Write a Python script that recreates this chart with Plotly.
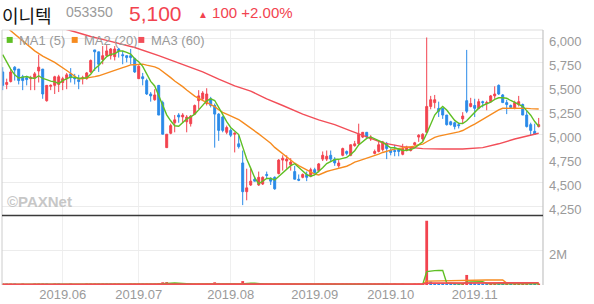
import plotly.graph_objects as go
import pandas as pd

# ---------------- data ----------------
holidays = ["2019-06-06", "2019-08-15", "2019-09-12", "2019-09-13", "2019-10-03", "2019-10-09"]
dates = pd.bdate_range("2019-05-13", "2019-11-25", freq="C", holidays=holidays)

opens = [5650,5520,5550,5700,5680,5600,5590,5580,5590,5660,
         5680,5350,5500,5510,5520,5540,5580,5630,5590,5570,
         5580,5580,5650,5880,5860,5780,5820,5820,5810,5890,
         5830,5820,5820,5790,5580,5600,5560,5420,5360,5510,
         5330,4860,5010,5120,5200,5180,5130,5110,5210,5350,
         5370,5320,5370,5300,5210,5180,5020,5040,5000,4900,
         4700,4400,4470,4530,4470,4480,4580,4540,4550,4590,
         4730,4720,4680,4610,4530,4550,4580,4560,4630,4620,
         4740,4740,4780,4740,4670,4780,4820,4780,4880,4900,
         4970,5020,4950,4800,4820,4840,4900,4830,4830,4840,
         4790,4830,4830,4890,4970,4950,5020,5290,5330,5270,
         5270,5200,5130,5120,5100,5160,5350,5290,5300,5270,
         5340,5320,5340,5400,5510,5410,5330,5300,5270,5310,
         5310,5200,5100,5030,5080]
highs = [5700,5580,5680,5710,5680,5620,5610,5610,5650,5830,
         5680,5510,5520,5610,5620,5600,5640,5690,5630,5620,
         5610,5650,5780,5880,5860,5920,5930,5900,5920,5900,
         5870,5820,5890,5800,5720,5640,5580,5440,5470,5510,
         5350,5000,5110,5200,5220,5220,5200,5200,5310,5460,
         5450,5480,5390,5320,5220,5190,5090,5060,5020,4990,
         4830,4640,4640,4560,4610,4560,4610,4550,4560,4740,
         4780,4780,4750,4670,4580,4590,4610,4650,4650,4700,
         4820,4830,4830,4760,4730,4860,4830,4890,4930,5110,
         5020,5020,4990,4840,4930,4930,4920,4850,4890,4850,
         4900,4880,4860,4920,5000,5010,6010,5400,5410,5340,
         5270,5200,5140,5130,5120,5230,5880,5380,5370,5370,
         5350,5350,5410,5500,5520,5420,5360,5310,5350,5400,
         5320,5250,5120,5110,5170]
lows = [5460,5470,5540,5560,5520,5460,5510,5460,5460,5540,
        5370,5340,5460,5420,5440,5460,5470,5540,5520,5470,
        5520,5570,5640,5660,5650,5730,5810,5780,5770,5800,
        5730,5750,5730,5640,5580,5510,5410,5340,5350,5200,
        5000,4860,5000,5020,5120,5120,5020,5080,5200,5260,
        5350,5300,5280,4860,4930,5020,5000,4970,4810,4850,
        4260,4310,4460,4510,4460,4470,4540,4470,4420,4580,
        4620,4640,4620,4530,4510,4540,4510,4550,4580,4600,
        4720,4720,4710,4670,4650,4770,4780,4770,4870,4890,
        4960,4950,4930,4790,4810,4820,4740,4780,4770,4770,
        4780,4820,4820,4880,4920,4930,5020,5260,5270,5180,
        5160,5090,5090,5050,5060,5110,5220,5280,5180,5260,
        5280,5250,5330,5370,5410,5330,5210,5270,5260,5290,
        5200,5070,4990,5000,5070]
closes = [5510,5540,5650,5670,5560,5560,5570,5590,5630,5700,
          5420,5510,5510,5600,5600,5580,5620,5590,5580,5550,
          5590,5640,5770,5860,5730,5820,5870,5890,5890,5870,
          5820,5800,5800,5650,5710,5580,5420,5400,5410,5200,
          5000,5000,5090,5150,5180,5200,5180,5190,5300,5400,
          5430,5420,5300,5210,5040,5040,5070,4990,5010,4870,
          4400,4440,4510,4510,4550,4550,4570,4510,4430,4730,
          4750,4740,4710,4530,4520,4580,4550,4630,4600,4690,
          4780,4770,4740,4700,4700,4850,4800,4890,4900,5000,
          5020,4970,4970,4820,4890,4920,4850,4810,4820,4820,
          4850,4860,4850,4910,4990,5000,5290,5360,5360,5240,
          5200,5100,5100,5080,5090,5190,5240,5320,5270,5340,
          5330,5330,5400,5420,5420,5330,5310,5280,5330,5340,
          5200,5080,5040,5000,5100]
# volume, thousand shares
volume_k = [35,28,40,30,25,30,22,26,30,45,
            80,40,25,30,28,22,25,30,20,22,
            25,30,55,70,45,50,40,35,38,30,
            25,22,30,40,50,30,55,40,35,110,
            160,170,90,60,40,35,45,40,60,70,
            45,70,50,160,120,80,40,35,50,60,
            230,120,70,40,45,35,30,28,60,70,
            45,35,30,40,25,22,30,35,25,40,
            50,35,40,30,25,45,30,55,35,90,
            50,40,30,45,40,35,40,25,30,22,
            35,25,20,35,55,60,3780,200,120,100,
            90,80,70,60,50,70,590,150,100,80,
            60,50,70,90,80,60,70,40,50,60,
            70,90,80,60,70]

# moving-average values read where the window reaches before the first bar
ma5_head = [5830, 5750, 5680, 5620]
ma20_head_idx = [0, 2, 4, 6, 8, 10, 13, 16, 18]
ma20_head_val = [6150, 6080, 6020, 5940, 5870, 5815, 5750, 5665, 5610]
ma60_idx = [0, 10, 18, 22, 26, 30, 33, 39, 46, 50, 54, 58, 62, 66, 70, 75, 79, 83, 87,
            91, 95, 100, 105, 110, 115, 120, 124, 128, 132, 134]
ma60_val = [6300, 6160, 6070, 6020, 5980, 5940, 5905, 5820, 5710, 5650, 5575, 5505, 5450,
            5370, 5300, 5210, 5150, 5100, 5035, 4970, 4910, 4870, 4850, 4845, 4845, 4860,
            4900, 4950, 4990, 5010]

month_labels = ["2019.06", "2019.07", "2019.08", "2019.09", "2019.10", "2019.11"]
price_ticks = [4250, 4500, 4750, 5000, 5250, 5500, 5750, 6000]

stock_name = "이니텍"
stock_code = "053350"
last_price = "5,100"
change_text = "100 +2.00%"

# ---------------- derived ----------------
n = len(closes)
idx = list(range(n))
cs = pd.Series(closes, dtype=float)
ma5 = cs.rolling(5).mean().tolist()
ma5_y = ma5_head + ma5[4:]
ma20 = cs.rolling(20).mean().tolist()
ma20_x = ma20_head_idx + idx[19:]
ma20_y = ma20_head_val + ma20[19:]

vol = pd.Series(volume_k, dtype=float) * 1000
vma5 = vol.rolling(5, min_periods=1).mean()
vma20 = vol.rolling(20, min_periods=1).mean()
vma60 = vol.rolling(60, min_periods=1).mean()

RED = "#f2434f"
BLUE = "#2b8be8"
GREEN = "#5fbf24"
ORANGE = "#f68b1f"
MARED = "#f24e58"
GRAY = "#9a9a9a"

vol_colors = [RED] + [RED if volume_k[i] > volume_k[i - 1] else BLUE for i in range(1, n)]

month_idx = []
for m in [6, 7, 8, 9, 10, 11]:
    month_idx.append(int([i for i, d in enumerate(dates) if d.month == m][0]))

# ---------------- figure ----------------
W, H = 594, 304
ML, MR, MT, MB = 2, 51, 30, 17
PW, PH = W - ML - MR, H - MT - MB
SPLIT = 70 / PH  # volume panel height fraction


def px_x(px):
    return (px - ML) / PW


def px_y(py):
    return (H - MB - py) / PH


fig = go.Figure()
fig.add_trace(go.Candlestick(
    x=idx, open=opens, high=highs, low=lows, close=closes,
    increasing=dict(line=dict(color=RED, width=1), fillcolor=RED),
    decreasing=dict(line=dict(color=BLUE, width=1), fillcolor=BLUE),
    whiskerwidth=0, xaxis="x", yaxis="y", hoverinfo="skip", showlegend=False))
fig.add_trace(go.Scatter(x=ma60_idx, y=ma60_val, mode="lines", line=dict(color=MARED, width=1.4),
                         xaxis="x", yaxis="y", hoverinfo="skip", showlegend=False))
fig.add_trace(go.Scatter(x=ma20_x, y=ma20_y, mode="lines", line=dict(color=ORANGE, width=1.4),
                         xaxis="x", yaxis="y", hoverinfo="skip", showlegend=False))
fig.add_trace(go.Scatter(x=idx, y=ma5_y, mode="lines", line=dict(color=GREEN, width=1.4),
                         xaxis="x", yaxis="y", hoverinfo="skip", showlegend=False))

fig.add_trace(go.Bar(x=idx, y=vol, marker=dict(color=vol_colors, line=dict(width=0)), width=0.7,
                     xaxis="x2", yaxis="y2", hoverinfo="skip", showlegend=False))
fig.add_trace(go.Scatter(x=idx, y=vma20, mode="lines", line=dict(color=ORANGE, width=1.4),
                         xaxis="x2", yaxis="y2", hoverinfo="skip", showlegend=False))
fig.add_trace(go.Scatter(x=idx, y=vma5, mode="lines", line=dict(color=GREEN, width=1.4),
                         xaxis="x2", yaxis="y2", hoverinfo="skip", showlegend=False))
fig.add_trace(go.Scatter(x=idx, y=vma60, mode="lines", line=dict(color=MARED, width=1.6),
                         xaxis="x2", yaxis="y2", hoverinfo="skip", showlegend=False))

xr = [-0.175, 135.075]
tickfont = dict(family="Arial, Liberation Sans, sans-serif", size=13, color=GRAY)
fig.update_layout(
    width=W, height=H, margin=dict(l=ML, r=MR, t=MT, b=MB),
    paper_bgcolor="white", plot_bgcolor="white", showlegend=False, bargap=0.3,
    xaxis=dict(domain=[0, 1], anchor="y", range=xr, tickvals=month_idx, showticklabels=False,
               showgrid=True, gridcolor="#efefef", gridwidth=1, zeroline=False, showline=False,
               ticks="", rangeslider=dict(visible=False), fixedrange=True),
    xaxis2=dict(domain=[0, 1], anchor="y2", range=xr, tickvals=month_idx, ticktext=month_labels,
                showgrid=True, gridcolor="#efefef", gridwidth=1, zeroline=False, showline=False,
                ticks="", tickfont=tickfont, matches="x", fixedrange=True),
    yaxis=dict(domain=[SPLIT, 1], anchor="x", range=[4151, 6088], side="right",
               tickvals=price_ticks, tickformat=",d", tickfont=tickfont, showgrid=True,
               gridcolor="#ececec", gridwidth=1, zeroline=False, showline=False, ticks="",
               ticklabelstandoff=5, ticklabelshift=3),
    yaxis2=dict(domain=[0, SPLIT], anchor="x2", range=[0, 4.08e6], side="right",
                tickvals=[2e6], ticktext=["2M"], tickfont=tickfont, showgrid=True,
                gridcolor="#ececec", zeroline=False, showline=False, ticks="",
                ticklabelstandoff=5, ticklabelshift=3),
)

shapes = [
    dict(type="line", xref="paper", yref="paper", x0=0, x1=1, y0=1, y1=1,
         line=dict(color="#dddddd", width=1)),
    dict(type="line", xref="paper", yref="paper", x0=0, x1=0, y0=0, y1=1,
         line=dict(color="#cccccc", width=1)),
    dict(type="line", xref="paper", yref="paper", x0=1, x1=1, y0=0, y1=1,
         line=dict(color="#c4c4c4", width=1.2)),
    dict(type="line", xref="paper", yref="paper", x0=0, x1=1, y0=SPLIT, y1=SPLIT,
         line=dict(color="#3a3a3a", width=1.5)),
]
legend_items = [(GREEN, "MA1 (5)", 6.7), (ORANGE, "MA2 (20)", 71.7), (MARED, "MA3 (60)", 138.3)]
annotations = []
for col, label, sx in legend_items:
    shapes.append(dict(type="rect", xref="paper", yref="paper",
                       x0=px_x(sx), x1=px_x(sx + 6), y0=px_y(43), y1=px_y(37),
                       fillcolor=col, line=dict(width=0)))
    annotations.append(dict(text=label, xref="paper", yref="paper", x=px_x(sx + 10.5), y=px_y(40.5),
                            xanchor="left", yanchor="middle", showarrow=False,
                            font=dict(family="Arial, Liberation Sans, sans-serif", size=13, color=GRAY)))

top = px_y(0)
annotations += [
    dict(text=stock_name, xref="paper", yref="paper", x=px_x(0), y=top,
         xanchor="left", yanchor="top", showarrow=False,
         font=dict(family="Noto Sans CJK KR", size=18, color="#111111")),
    dict(text=stock_code, xref="paper", yref="paper", x=px_x(64), y=px_y(12),
         xanchor="left", yanchor="middle", showarrow=False,
         font=dict(family="Arial, Liberation Sans, sans-serif", size=14, color=GRAY)),
    dict(text=last_price, xref="paper", yref="paper", x=px_x(127), y=top,
         xanchor="left", yanchor="top", showarrow=False,
         font=dict(family="Arial, Liberation Sans, sans-serif", size=21, color=RED)),
    dict(text="<span style='font-size:10px'>▲</span> " + change_text, xref="paper", yref="paper",
         x=px_x(196), y=px_y(12), xanchor="left", yanchor="middle", showarrow=False,
         font=dict(family="Arial, Liberation Sans, sans-serif", size=15, color=RED)),
    dict(text="<b>©PAXNet</b>", xref="paper", yref="paper", x=px_x(5), y=px_y(203),
         xanchor="left", yanchor="middle", showarrow=False, opacity=0.75,
         font=dict(family="Arial, Liberation Sans, sans-serif", size=15, color="#b5b5b5")),
]
fig.update_layout(shapes=shapes, annotations=annotations)

fig.write_html("out.html")
